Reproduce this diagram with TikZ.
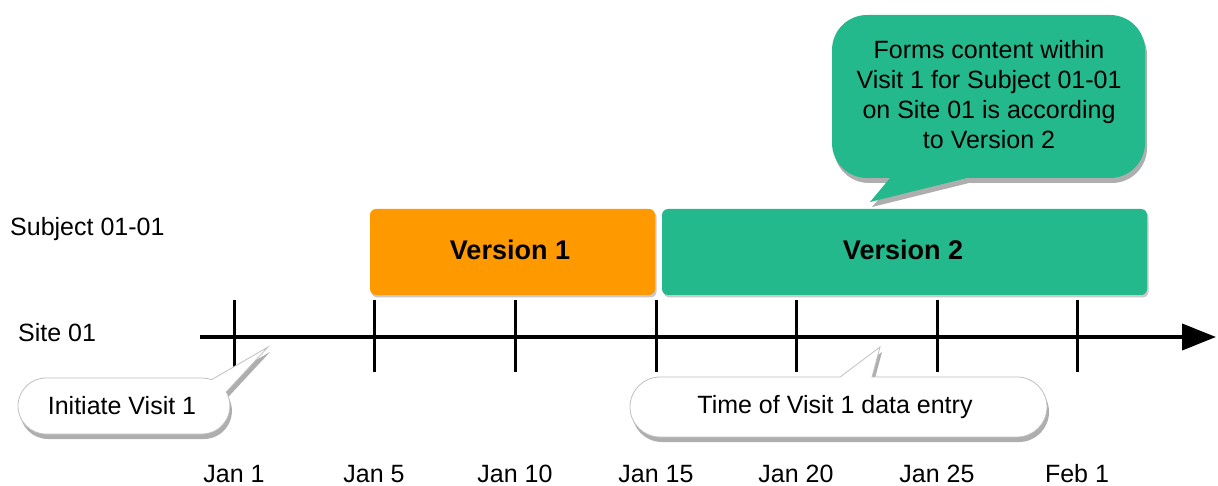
\documentclass[tikz,border=0pt]{standalone}
\usepackage{fontspec}
\setmainfont{Liberation Sans}
\usetikzlibrary{arrows.meta,shadows}
\definecolor{vorange}{HTML}{FF9900}
\definecolor{vgreen}{HTML}{24B98C}
\tikzset{
  lbl/.style={font=\fontsize{25}{30}\selectfont, inner sep=0pt},
  verbox/.style={rounded corners=6pt, drop shadow={shadow xshift=1.5pt, shadow yshift=-2.5pt, opacity=0.35, fill=black!60}},
  bubble/.style={drop shadow={shadow xshift=2pt, shadow yshift=-5pt, opacity=0.45, fill=black!70}},
  tick/.style={line width=3pt},
  axisline/.style={line width=4pt, -{Triangle[length=34pt,width=26pt]}},
}
\begin{document}
\begin{tikzpicture}[x=1pt,y=-1pt]
\useasboundingbox (0,0) rectangle (1218,486);
\fill[white] (0,0) rectangle (1218,486);

% axis
\coordinate (axs) at (200,337);
\coordinate (axe) at (1216,337);
\draw[axisline] (axs) -- (axe);
\foreach \x/\n in {234/t1,374/t2,515/t3,656/t4,796/t5,937/t6,1077/t7}{
  \coordinate (\n top) at (\x,300);
  \coordinate (\n bot) at (\x,372);
  \draw[tick] (\n top) -- (\n bot);
}

% version boxes
\fill[vorange, verbox] (370,209) rectangle (655,295);
\node[lbl, font=\fontsize{27}{30}\selectfont\bfseries] (v1) at (510,250) {Version 1};
\fill[vgreen, verbox] (662,209) rectangle (1147,295);
\node[lbl, font=\fontsize{27}{30}\selectfont\bfseries] (v2) at (903,250) {Version 2};

% green callout
\fill[vgreen, bubble] (890,178) -- (867,178) arc(90:180:35) -- (832,50) arc(180:270:35)
   -- (1110,15) arc(270:360:35) -- (1145,143) arc(0:90:35) -- (967,178) -- (870,202) -- cycle;
\node[lbl, align=center] (note) at (989,95) {Forms content within\\Visit 1 for Subject 01-01\\on Site 01 is according\\to Version 2};

% white callouts
\filldraw[fill=white, draw=black!25, line width=0.8pt, bubble]
  (268,347) -- (226.2,392) arc(-30:90:28) -- (46,434) arc(90:270:28) -- (202,378) arc(270:290:28) -- cycle;
\node[lbl] (init) at (122,406) {Initiate Visit 1};

\filldraw[fill=white, draw=black!25, line width=0.8pt, bubble]
  (840,377) -- (880,347) -- (872,377) -- (1017,377) arc(270:450:30) -- (660,437) arc(90:270:30) -- cycle;
\node[lbl] (entry) at (835,407) {Time of Visit 1 data entry};

% row labels
\node[lbl, anchor=west] (subj) at (10,229) {Subject 01-01};
\node[lbl, anchor=west] (site) at (18,333) {Site 01};

% dates
\foreach \x/\t/\n in {234/Jan 1/d1,374/Jan 5/d2,515/Jan 10/d3,656/Jan 15/d4,796/Jan 20/d5,937/Jan 25/d6,1077/Feb 1/d7}{
  \node[lbl] (\n) at (\x,474) {\t};
}
\end{tikzpicture}
\end{document}
